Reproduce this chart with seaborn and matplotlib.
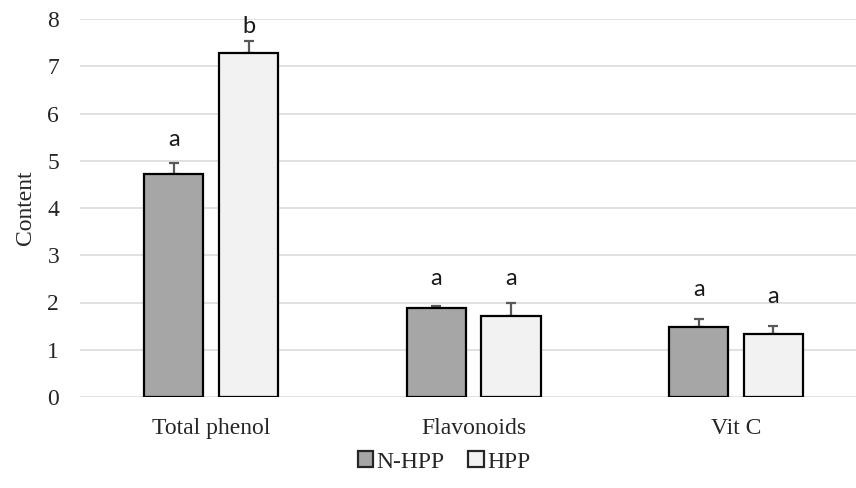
import matplotlib
matplotlib.use("Agg")
import matplotlib.pyplot as plt
import seaborn as sns
import pandas as pd
import numpy as np
from matplotlib.patches import Patch

categories = ["Total phenol", "Flavonoids", "Vit C"]
groups = ["N-HPP", "HPP"]
n_hpp = [4.73, 1.89, 1.48]
hpp = [7.29, 1.71, 1.33]
n_hpp_err = [0.22, 0.03, 0.18]
hpp_err = [0.24, 0.28, 0.18]
n_hpp_letters = ["a", "a", "a"]
hpp_letters = ["b", "a", "a"]
n_hpp_letter_y = [5.31, 2.37, 2.14]
hpp_letter_y = [7.70, 2.37, 1.98]
yticks = [0, 1, 2, 3, 4, 5, 6, 7, 8]

colors = {"N-HPP": "#a6a6a6", "HPP": "#f2f2f2"}

df = pd.DataFrame({
    "Category": categories * 2,
    "Group": ["N-HPP"] * 3 + ["HPP"] * 3,
    "Content": n_hpp + hpp,
})

sns.set_style("white")
plt.rcParams["font.family"] = ["Liberation Serif", "DejaVu Serif"]

fig = plt.figure(figsize=(8.56, 4.88), dpi=100)
ax = fig.add_axes([80 / 856, 1 - 397 / 488, 1 - 80 / 856, (397 - 19) / 488])

sns.barplot(data=df, x="Category", y="Content", hue="Group",
            order=categories, hue_order=groups, palette=colors,
            width=0.57, gap=0.21, edgecolor="black", linewidth=1.6,
            errorbar=None, legend=False, ax=ax, zorder=3)

ax.set_xlim(-0.5, 2.457)
ax.set_ylim(0, 8)
ax.set_yticks(yticks)
ax.yaxis.grid(True, color="#d9d9d9", linewidth=1.1, zorder=0)
ax.set_axisbelow(True)
for s in ax.spines.values():
    s.set_visible(False)
ax.tick_params(axis="both", length=0, labelsize=17)
ax.tick_params(axis="x", pad=15)
ax.tick_params(axis="y", pad=15)
ax.set_xlabel("")
ax.set_ylabel("Content", fontsize=17, va="center")
ax.yaxis.set_label_coords(-54 / 776, 0.5)

# error bars and letters
containers = list(ax.containers)
all_vals = [n_hpp, hpp]
all_errs = [n_hpp_err, hpp_err]
all_letters = [n_hpp_letters, hpp_letters]
all_ly = [n_hpp_letter_y, hpp_letter_y]
for ci, cont in enumerate(containers):
    xs = [p.get_x() + p.get_width() / 2 for p in cont.patches]
    ax.errorbar(xs, all_vals[ci], yerr=[np.zeros(3), all_errs[ci]],
                fmt="none", ecolor="#595959", elinewidth=1.6,
                capsize=3.8, capthick=1.6, zorder=2)
    for x, lt, ly in zip(xs, all_letters[ci], all_ly[ci]):
        ax.text(x, ly, lt, ha="center", va="baseline", fontsize=17,
                family=["Lato", "DejaVu Sans"], color="#1a1a1a")

handles = [Patch(facecolor=colors[g], edgecolor="#262626", linewidth=1.6) for g in groups]
fig.legend(handles, groups, loc="center", bbox_to_anchor=(444 / 856, 1 - 462 / 488),
           ncol=2, frameon=False, fontsize=17, handlelength=0.65, handleheight=0.65,
           handletextpad=0.15, columnspacing=1.0, borderaxespad=0)

fig.savefig("out.png", dpi=100)
